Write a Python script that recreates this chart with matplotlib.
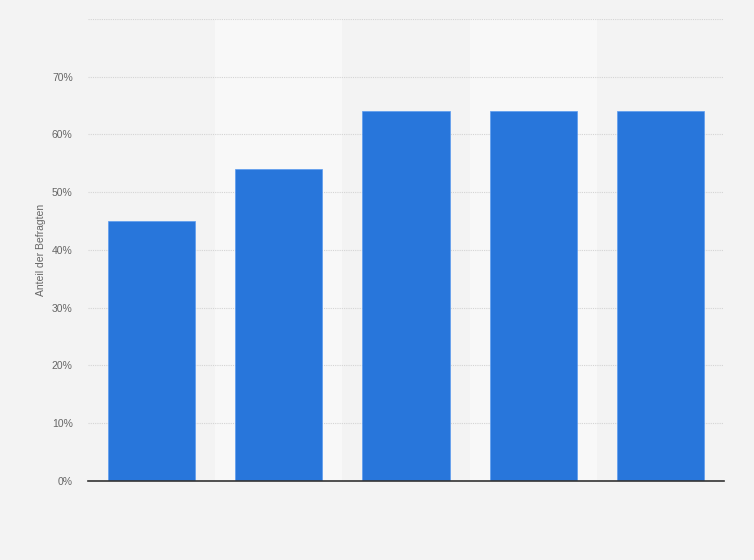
import matplotlib.pyplot as plt
import numpy as np

plt.rcParams['font.family'] = ['Liberation Sans', 'DejaVu Sans']

# values (share of respondents, %)
categories = ['', '', '', '', '']
values = [45, 54, 64, 64, 64]
yticks = [0, 10, 20, 30, 40, 50, 60, 70, 80]

bg = '#f3f3f3'
band = '#f8f8f8'
bar_color = '#2876db'

fig = plt.figure(figsize=(7.54, 5.6), dpi=100, facecolor=bg)
ax = fig.add_axes([0.1167, 0.1411, 0.8435, 0.8250])
ax.set_facecolor(bg)

x = np.arange(len(values))
ax.set_xlim(-0.5, len(values) - 0.5)
ax.set_ylim(0, 80)

# alternating light bands behind every other category
for i in x:
    if i % 2 == 1:
        ax.axvspan(i - 0.5, i + 0.5, color=band, zorder=0, lw=0)

ax.set_yticks(yticks)
ax.yaxis.grid(True, linestyle=(0, (1, 1)), color='#d4d4d4', linewidth=0.8, zorder=1)
ax.set_axisbelow(True)

ax.bar(x, values, width=0.685, color=bar_color, edgecolor='#5b9bf0', linewidth=0.5, zorder=3)

ax.set_xticks(x)
ax.set_xticklabels(categories)
ax.tick_params(axis='x', length=0)
ax.tick_params(axis='y', length=0, pad=11, labelsize=7.5, labelcolor='#666666')

labels = ['{:d}%'.format(v) for v in yticks[:-1]] + ['']
ax.set_yticklabels(labels)

for side in ['top', 'right', 'left']:
    ax.spines[side].set_visible(False)
ax.spines['bottom'].set_color('#333333')
ax.spines['bottom'].set_linewidth(1.2)
ax.spines['bottom'].set_zorder(4)

ax.set_ylabel('Anteil der Befragten', fontsize=7.5, color='#666666')
ax.yaxis.set_label_coords(-0.066, 0.5)

plt.savefig('out.png', dpi=100, facecolor=bg)
